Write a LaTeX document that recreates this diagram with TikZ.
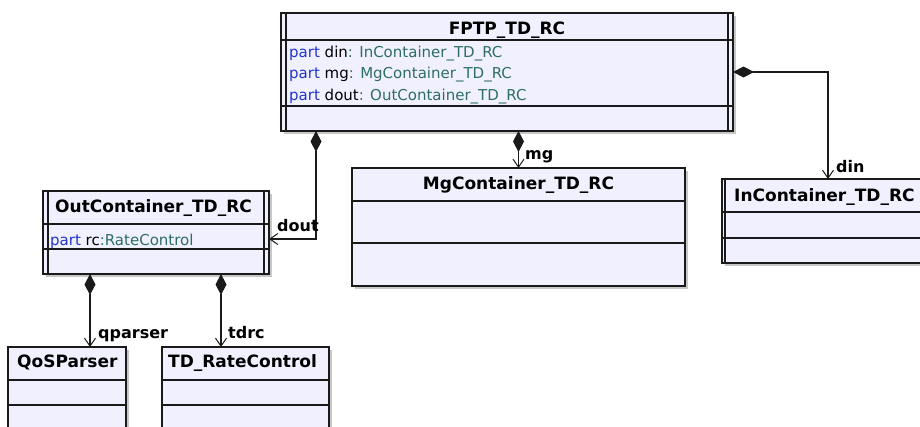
\documentclass[tikz,border=0pt]{standalone}
\usepackage{fontspec}
\setmainfont{DejaVu Sans}
\usetikzlibrary{arrows.meta,calc,shadows}
\definecolor{boxfill}{HTML}{F0F0FF}
\definecolor{kw}{HTML}{2233CC}
\definecolor{ty}{HTML}{2E6E66}
\definecolor{edge}{HTML}{1A1A1A}
\tikzset{
  box/.style={draw=edge, line width=1.4pt, fill=boxfill, inner sep=0pt, outer sep=0pt,
    anchor=north west,
    drop shadow={shadow xshift=3pt, shadow yshift=-3pt, fill=black!22, opacity=1}},
  sepline/.style={draw=edge, line width=1.3pt},
  ctitle/.style={font=\fontsize{17}{20}\selectfont\bfseries, inner sep=0pt, text=black},
  attr/.style={font=\fontsize{15}{18}\selectfont, inner sep=0pt, anchor=base west, text=black},
  lbl/.style={font=\fontsize{16}{19}\selectfont\bfseries, inner sep=0pt, anchor=base west, text=black},
  comp/.style={draw=edge, line width=1.2pt,
    arrows={Diamond[length=21pt,width=11pt]-Straight Barb[length=8pt,width=11pt,line width=1pt]}}
}
\begin{document}
\begin{tikzpicture}[x=1pt,y=-1pt]
\useasboundingbox (0,0) rectangle (920,426);
\clip (0,0) rectangle (920,426);

% ---- boxes ----
\node[box, minimum width=452pt, minimum height=118pt] (fptp) at (281,13) {};
\node[box, minimum width=333pt, minimum height=118pt] (mg) at (352,168) {};
\node[box, minimum width=210pt, minimum height=84pt] (in) at (722,179) {};
\node[box, minimum width=226pt, minimum height=83pt] (out) at (43,191) {};
\node[box, minimum width=118pt, minimum height=90pt] (qos) at (8,347) {};
\node[box, minimum width=167pt, minimum height=90pt] (trc) at (162,347) {};

% FPTP compartments and double sides
\draw[sepline] ($(fptp.north west)+(0,27)$) -- ($(fptp.north east)+(0,27)$);
\draw[sepline] ($(fptp.north west)+(0,93)$) -- ($(fptp.north east)+(0,93)$);
\draw[sepline] ($(fptp.north west)+(5,0)$) -- ($(fptp.south west)+(5,0)$);
\draw[sepline] ($(fptp.north east)+(-5,0)$) -- ($(fptp.south east)+(-5,0)$);

% Mg compartments
\draw[sepline] ($(mg.north west)+(0,33)$) -- ($(mg.north east)+(0,33)$);
\draw[sepline] ($(mg.north west)+(0,75)$) -- ($(mg.north east)+(0,75)$);

% In compartments
\draw[sepline] ($(in.north west)+(0,33)$) -- ($(in.north east)+(0,33)$);
\draw[sepline] ($(in.north west)+(0,59)$) -- ($(in.north east)+(0,59)$);
\draw[sepline] ($(in.north west)+(3,0)$) -- ($(in.south west)+(3,0)$);

% Out compartments
\draw[sepline] ($(out.north west)+(0,33)$) -- ($(out.north east)+(0,33)$);
\draw[sepline] ($(out.north west)+(0,58)$) -- ($(out.north east)+(0,58)$);
\draw[sepline] ($(out.north west)+(5,0)$) -- ($(out.south west)+(5,0)$);
\draw[sepline] ($(out.north east)+(-5,0)$) -- ($(out.south east)+(-5,0)$);

% QoS and TD_RateControl compartments
\draw[sepline] ($(qos.north west)+(0,33)$) -- ($(qos.north east)+(0,33)$);
\draw[sepline] ($(qos.north west)+(0,58)$) -- ($(qos.north east)+(0,58)$);
\draw[sepline] ($(trc.north west)+(0,33)$) -- ($(trc.north east)+(0,33)$);
\draw[sepline] ($(trc.north west)+(0,58)$) -- ($(trc.north east)+(0,58)$);

% ---- texts ----
\node[ctitle, anchor=base] (fptpT) at (507,34) {FPTP\_TD\_RC};
\node[attr] (fa1) at (289,57) {\textcolor{kw}{part} din\textcolor{ty}{: InContainer\_TD\_RC}};
\node[attr] (fa2) at (289,78.5) {\textcolor{kw}{part} mg\textcolor{ty}{: MgContainer\_TD\_RC}};
\node[attr] (fa3) at (289,100) {\textcolor{kw}{part} dout\textcolor{ty}{: OutContainer\_TD\_RC}};

\node[ctitle, anchor=base] (mgT) at (518.5,189.5) {MgContainer\_TD\_RC};
\node[ctitle, anchor=base west] (inT) at (734,201) {InContainer\_TD\_RC};
\node[ctitle, anchor=base west] (outT) at (55,212.5) {OutContainer\_TD\_RC};
\node[attr] (oa1) at (50,245) {\textcolor{kw}{part} rc\textcolor{ty}{:RateControl}};
\node[ctitle, anchor=base west] (qosT) at (17,367) {QoSParser};
\node[ctitle, anchor=base west] (trcT) at (168,367) {TD\_RateControl};

% ---- connectors ----
\draw[comp] ($(fptp.north east)+(0,59)$) -| ($(in.north west)+(106,0)$);
\draw[comp] (fptp.south -| mg.north) -- (mg.north);
\draw[comp] ($(fptp.south west)+(35,0)$) |- ($(out.north east)+(0,48)$);
\draw[comp] ($(out.south west)+(47,0)$) -- ($(qos.north west)+(82,0)$);
\draw[comp] ($(out.south west)+(178,0)$) -- ($(trc.north west)+(59,0)$);

% ---- connector labels ----
\node[lbl] (ldin) at (836,172) {din};
\node[lbl] (lmg) at (525,159) {mg};
\node[lbl] (ldout) at (277,231) {dout};
\node[lbl] (lqp) at (98,338) {qparser};
\node[lbl] (ltd) at (228,338) {tdrc};
\end{tikzpicture}
\end{document}
